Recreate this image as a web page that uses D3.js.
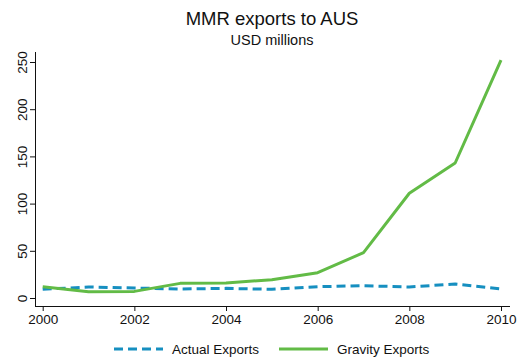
<!DOCTYPE html>
<html>
<head>
<meta charset="utf-8">
<script src="https://cdn.jsdelivr.net/npm/d3@7"></script>
<style>
  body { margin: 0; background: #fff; }
  text { font-family: "Liberation Sans", Arial, sans-serif; fill: #111; }
</style>
</head>
<body>
<svg id="chart" width="521" height="363"></svg>
<script>
const years = [2000, 2001, 2002, 2003, 2004, 2005, 2006, 2007, 2008, 2009, 2010];
const actual = [9.2, 11.7, 10.6, 9.5, 10.2, 9.2, 12, 13, 11.7, 14.8, 9.5];
const gravity = [12, 6.7, 7, 15.5, 15.8, 19.4, 26.8, 48, 111, 143, 252];
const xTicks = [2000, 2002, 2004, 2006, 2008, 2010];
const yTicks = [0, 50, 100, 150, 200, 250];

const svg = d3.select('#chart');

const x = d3.scaleLinear().domain([2000, 2010]).range([42.7, 501]);
const y = d3.scaleLinear().domain([0, 250]).range([298, 62]);

// axes
svg.append('g')
  .attr('transform', 'translate(0,306)')
  .call(d3.axisBottom(x).tickValues(xTicks).tickFormat(d3.format('d')).tickSize(5).tickPadding(3))
  .call(g => g.select('.domain').attr('d', 'M35,0.5H510'))
  .call(g => g.selectAll('text').style('font-size', '13.5px'));

svg.append('g')
  .attr('transform', 'translate(35,0)')
  .call(d3.axisLeft(y).tickValues(yTicks).tickSize(5))
  .call(g => g.select('.domain').attr('d', 'M0.5,52V306'))
  .call(g => g.selectAll('text')
    .style('font-size', '13.5px')
    .attr('text-anchor', 'middle')
    .attr('x', 0)
    .attr('y', 0)
    .attr('dy', null)
    .attr('transform', 'translate(-13,0) rotate(-90)')
    .attr('dominant-baseline', 'central'));

svg.selectAll('.domain, .tick line').attr('stroke', '#111');

const line = d3.line().x((d, i) => x(years[i])).y(d => y(d));

svg.append('path')
  .datum(actual)
  .attr('d', line)
  .attr('fill', 'none')
  .attr('stroke', '#168fc0')
  .attr('stroke-width', 3)
  .attr('stroke-dasharray', '9,5');

svg.append('path')
  .datum(gravity)
  .attr('d', line)
  .attr('fill', 'none')
  .attr('stroke', '#62bb46')
  .attr('stroke-width', 3)
  .attr('stroke-linejoin', 'round');

// titles
svg.append('text').attr('x', 272).attr('y', 25).attr('text-anchor', 'middle')
  .style('font-size', '18.5px').text('MMR exports to AUS');
svg.append('text').attr('x', 272).attr('y', 45).attr('text-anchor', 'middle')
  .style('font-size', '14.5px').text('USD millions');

// legend
const legend = [
  { name: 'Actual Exports', color: '#168fc0', dash: '9,5', x: 114 },
  { name: 'Gravity Exports', color: '#62bb46', dash: null, x: 279 }
];
const lg = svg.selectAll('.lg').data(legend).enter().append('g')
  .attr('transform', d => `translate(${d.x},349)`);
lg.append('line').attr('x1', 0).attr('x2', 49)
  .attr('stroke', d => d.color).attr('stroke-width', 3)
  .attr('stroke-dasharray', d => d.dash);
lg.append('text').attr('x', 58).attr('dy', '0.35em')
  .style('font-size', '13.5px').text(d => d.name);
</script>
</body>
</html>
